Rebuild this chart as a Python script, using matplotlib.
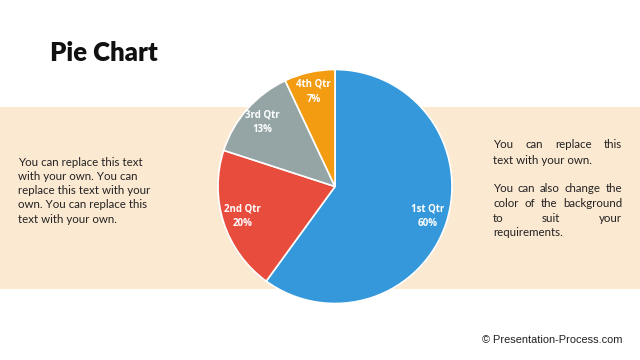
import matplotlib
matplotlib.use("Agg")
import matplotlib.pyplot as plt
from matplotlib.patches import Rectangle
import numpy as np

labels = ["1st Qtr", "2nd Qtr", "3rd Qtr", "4th Qtr"]
values = [60, 20, 13, 7]
colors = ["#3498DB", "#E74C3C", "#95A5A6", "#F39C12"]
title = "Pie Chart"
left_lines = ["You can replace this text", "with your own. You can",
              "replace this text with your", "own. You can replace this",
              "text with your own."]
right_par1 = ["You can replace this", "text with your own."]
right_par2 = ["You can also change the", "color of the background",
              "to suit your", "requirements."]
footer = "© Presentation-Process.com"

W, H = 640, 360
fig = plt.figure(figsize=(6.4, 3.6), dpi=100)
ax = fig.add_axes([0, 0, 1, 1])

def Y(y):
    return H - y

ax.add_patch(Rectangle((0, Y(289)), W, 289 - 107, color="#FCE9D2", zorder=0, lw=0))

cx, cy, r = 335, Y(186.5), 117
wedges, _ = ax.pie(values, colors=colors, startangle=90, counterclock=False,
                   center=(cx, cy), radius=r,
                   wedgeprops=dict(edgecolor="white", linewidth=1.2), frame=False)
tot = sum(values)
ang = 90
for lab, v in zip(labels, values):
    mid = np.deg2rad(ang - v / tot * 360 / 2)
    ang -= v / tot * 360
    x = cx + 0.83 * r * np.cos(mid)
    y = cy + 0.83 * r * np.sin(mid)
    ax.text(x, y, f"{lab}\n{v}%", ha="center", va="center", color="white",
            fontsize=7, fontweight="bold", family="Open Sans", linespacing=1.45)

ax.set_xlim(0, W)
ax.set_ylim(0, H)
ax.set_aspect("auto")
ax.axis("off")

ax.text(50, Y(53), title, fontsize=18.5, fontweight="heavy", family="Lato",
        ha="left", va="center", color="#111111")

FS = 8.3
for i, line in enumerate(left_lines):
    ax.text(18, Y(162 + i * 14.3), line, fontsize=FS, family="Lato",
            ha="left", va="center", color="#222222")

fig.canvas.draw()
renderer = fig.canvas.get_renderer()

def justify(line, x0, x1, y, last):
    if last or len(line.split()) == 1:
        ax.text(x0, Y(y), line, fontsize=FS, family="Lato", ha="left", va="center", color="#222222")
        return
    words = line.split()
    ts = [ax.text(0, 0, w, fontsize=FS, family="Lato") for w in words]
    ws = []
    for t in ts:
        bb = t.get_window_extent(renderer)
        ws.append(bb.width)
        t.remove()
    gap = (x1 - x0 - sum(ws)) / (len(words) - 1)
    x = x0
    for w, wd in zip(words, ws):
        ax.text(x, Y(y), w, fontsize=FS, family="Lato", ha="left", va="center", color="#222222")
        x += wd + gap

x0, x1 = 493, 622
ys1 = [145, 160.5]
for i, line in enumerate(right_par1):
    justify(line, x0, x1, ys1[i], i == len(right_par1) - 1)
ys2 = [189, 203.5, 218, 232.5]
for i, line in enumerate(right_par2):
    justify(line, x0, x1, ys2[i], i == len(right_par2) - 1)

ax.text(623, Y(340), footer, fontsize=7.9, family="Liberation Sans",
        ha="right", va="center", color="#222222")

fig.savefig("out.png", dpi=100)
